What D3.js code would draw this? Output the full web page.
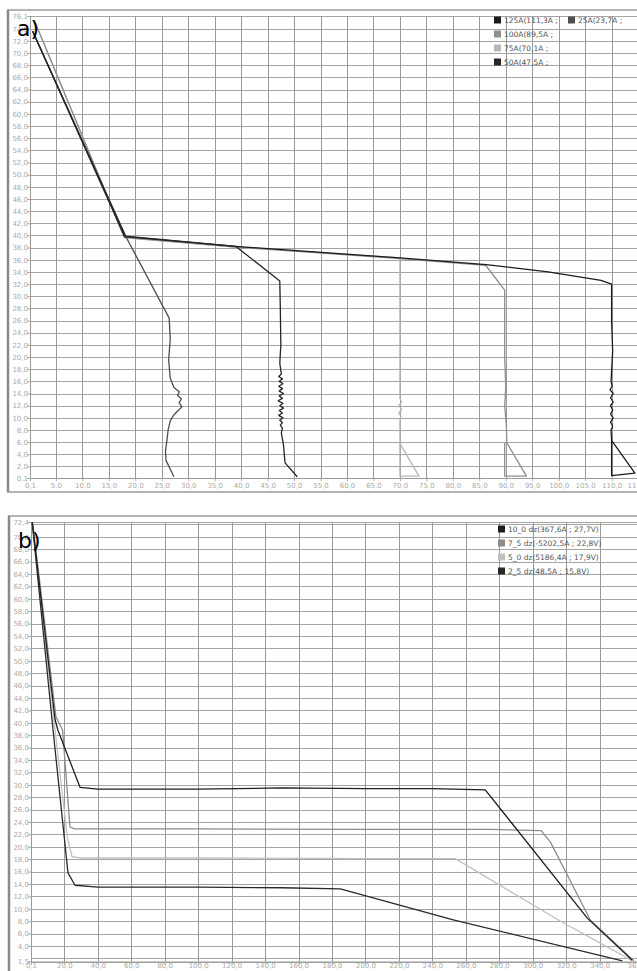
<!DOCTYPE html>
<html>
<head>
<meta charset="utf-8">
<script src="https://cdn.jsdelivr.net/npm/d3@7"></script>
<style>
  body { margin: 0; background: #fff; }
  svg { display: block; }
  text { font-family: "DejaVu Sans", sans-serif; }
</style>
</head>
<body>
<div id="chart"></div>
<script>
// ---- panel a data (x = current, y = voltage) ----
const namesA = ['125A', '25A', '100A', '75A', '50A'];
const legendA = ['125A(111,3A ;', '25A(23,7A ;', '100A(89,5A ;', '75A(70,1A ;', '50A(47,5A ;'];

const curve125 = [[0.6, 73.6], [18.0, 39.8], [39, 38.2], [70, 36.3], [86.3, 35.2], [98, 34.0], [108.0, 32.6],
  [110.0, 32.0], [110.0, 26], [110.2, 21], [109.9, 16], [110.1, 15.2], [109.7, 14.6], [110.3, 14.0],
  [109.8, 13.3], [110.3, 12.6], [109.8, 12.0], [110.2, 11.3], [109.8, 10.6], [110.3, 10.0], [109.8, 9.3],
  [110.2, 8.6], [109.9, 8.0], [110.0, 6.3], [114.4, 0.9], [110.0, 0.5], [110.0, 6.3]];
const curve25 = [[0.6, 73.6], [18.4, 39.5], [26.4, 26.4], [26.6, 23], [26.3, 19.5], [26.6, 16.5], [27.3, 15.0],
  [28.3, 14.3], [28.0, 13.7], [28.7, 13.1], [28.3, 12.5], [28.8, 11.8], [28.1, 11.2], [27.3, 10.5],
  [26.6, 9.5], [26.2, 8.0], [26.0, 6.5], [25.7, 4.5], [25.8, 3.0], [27.3, 0.3]];
const curve100 = [[0.9, 75.4], [17.9, 39.7], [39, 38.1], [70, 36.2], [86.2, 35.1], [89.8, 31.0], [89.8, 20],
  [90.0, 15], [89.8, 12], [90.1, 9], [90.2, 5.9], [93.9, 0.4], [89.8, 0.4], [89.8, 5.9]];
const curve75 = [[0.9, 75.4], [18.0, 39.6], [39, 38.1], [70.0, 36.3], [70.0, 20], [70.0, 13.2], [70.3, 12.6],
  [69.8, 12.0], [70.3, 11.4], [69.8, 10.8], [70.2, 10.2], [70.0, 9.6], [70.0, 5.8], [73.6, 0.4],
  [70.0, 0.4], [70.0, 5.8]];
const curve50 = [[0.6, 73.6], [18.1, 39.9], [39.0, 38.2], [47.3, 32.5], [47.4, 28], [47.5, 22], [47.3, 19],
  [47.6, 17.2], [47.1, 16.8], [47.8, 16.4], [47.2, 16.0], [47.9, 15.6], [47.1, 15.2], [47.8, 14.8],
  [47.2, 14.4], [48.0, 14.0], [47.2, 13.6], [47.8, 13.2], [47.0, 12.8], [47.9, 12.4], [47.3, 12.0],
  [48.0, 11.6], [47.2, 11.2], [47.8, 10.8], [47.1, 10.4], [47.9, 10.0], [47.3, 9.6], [47.8, 9.2],
  [47.4, 8.8], [47.8, 8.3], [47.6, 7.5], [48.0, 5.5], [48.2, 3.5], [48.3, 2.6], [50.6, 0.3]];

const xTicksA = [0.1, 5, 10, 15, 20, 25, 30, 35, 40, 45, 50, 55, 60, 65, 70, 75, 80, 85, 90, 95, 100, 105, 110, 114.8];
const yTicksA = [0.1, 2, 4, 6, 8, 10, 12, 14, 16, 18, 20, 22, 24, 26, 28, 30, 32, 34, 36, 38, 40, 42, 44, 46,
  48, 50, 52, 54, 56, 58, 60, 62, 64, 66, 68, 70, 72, 74, 76.1];

// ---- panel b data ----
const namesB = ['10_0', '7_5', '5_0', '2_5'];
const legendB = ['10_0 dz(367,6A ; 27,7V)', '7_5 dz(-5202,5A ; 22,8V)', '5_0 dz(5186,4A ; 17,9V)', '2_5 dz(48,5A ; 15,8V)'];

const curve10_0 = [[0.8, 72.4], [14.5, 40.5], [16.2, 38.8], [29.4, 29.6], [40, 29.3], [100, 29.3], [150, 29.5],
  [200, 29.4], [240, 29.4], [271.6, 29.2], [332.6, 8.5], [359.5, 1.7]];
const curve7_5 = [[1.0, 72.4], [15.0, 41], [19, 38.8], [23.4, 23.2], [26, 22.9], [100, 22.9], [200, 22.8],
  [274.6, 22.8], [305, 22.6], [310.5, 20.8], [334.4, 8.2], [360.5, 1.6]];
const curve5_0 = [[1.0, 72.4], [14.0, 40], [21.8, 21.5], [24.6, 18.4], [30, 18.2], [100, 18.2], [200, 18.1],
  [253.7, 18.1], [315.3, 8.2], [359.5, 1.6]];
const curve2_5 = [[0.8, 72.4], [13.3, 38.8], [22.2, 15.8], [26.4, 13.8], [40, 13.5], [100, 13.5], [150, 13.4],
  [185, 13.2], [252.5, 8.2], [353.6, 1.6]];

const xTicksB = [0.1, 20, 40, 60, 80, 100, 120, 140, 160, 180, 200, 220, 240, 260, 280, 300, 320, 340, 362.3];
const yTicksB = [1.5, 2, 4, 6, 8, 10, 12, 14, 16, 18, 20, 22, 24, 26, 28, 30, 32, 34, 36, 38, 40, 42, 44, 46,
  48, 50, 52, 54, 56, 58, 60, 62, 64, 66, 68, 70, 72, 72.4];

const fmt = v => d3.format('.1f')(v).replace('.', ',');

const svg = d3.select('#chart').append('svg')
  .attr('width', 637).attr('height', 971);
svg.append('rect').attr('width', 637).attr('height', 971).attr('fill', '#fff');

function drawPanel(p) {
  const g = svg.append('g');
  const x = d3.scaleLinear().domain([p.xTicks[0], p.xTicks[p.xTicks.length - 1]]).range([p.left, p.right]);
  const y = d3.scaleLinear().domain([p.yTicks[0], p.yTicks[p.yTicks.length - 1]]).range([p.bottom, p.top]);

  // outer frame
  g.append('rect')
    .attr('x', p.fx).attr('y', p.fy).attr('width', 700).attr('height', p.fh)
    .attr('fill', '#fff').attr('stroke', '#b4b4b4').attr('stroke-width', 2);
  g.append('line')
    .attr('x1', p.fx).attr('x2', p.fx).attr('y1', p.fy).attr('y2', p.fy + p.fh)
    .attr('stroke', '#8a8a8a').attr('stroke-width', 2.5);

  // grid
  g.selectAll('.hg').data(p.yTicks).join('line')
    .attr('x1', p.left).attr('x2', p.right)
    .attr('y1', d => Math.round(y(d)) + 0.5).attr('y2', d => Math.round(y(d)) + 0.5)
    .attr('stroke', '#a4a4a4').attr('stroke-width', 1);
  g.selectAll('.vg').data(p.xTicks).join('line')
    .attr('y1', p.top).attr('y2', p.bottom)
    .attr('x1', d => Math.round(x(d)) + 0.5).attr('x2', d => Math.round(x(d)) + 0.5)
    .attr('stroke', '#999').attr('stroke-width', 1);

  // axes
  const yLab = p.yTicks.filter((d, i) => i === 0 || i === p.yTicks.length - 1 ||
    (Math.abs(d - p.yTicks[0]) > 1 && Math.abs(d - p.yTicks[p.yTicks.length - 1]) > 1));
  const ya = g.append('g').attr('transform', `translate(${p.left},0)`)
    .call(d3.axisLeft(y).tickValues(yLab).tickSize(3).tickFormat(fmt));
  const xa = g.append('g').attr('transform', `translate(0,${p.bottom})`)
    .call(d3.axisBottom(x).tickValues(p.xTicks).tickSize(3).tickFormat(fmt));
  [ya, xa].forEach(a => {
    a.select('.domain').attr('stroke', '#999');
    a.selectAll('.tick line').attr('stroke', '#aaa');
    a.selectAll('.tick text').attr('fill', '#aaa').attr('font-size', 7)
      .attr('font-family', '"DejaVu Sans", sans-serif');
  });
  ya.selectAll('.tick text').attr('x', -2);
  xa.selectAll('.tick text').attr('y', p.xLabelY);

  // curves
  const clipId = 'clip-' + p.id;
  svg.append('clipPath').attr('id', clipId).append('rect')
    .attr('x', p.left).attr('y', p.top).attr('width', p.right - p.left).attr('height', p.bottom - p.top);
  const line = d3.line().x(d => x(d[0])).y(d => y(d[1]));
  g.append('g').attr('clip-path', `url(#${clipId})`)
    .selectAll('path').data(p.order).join('path')
    .attr('d', k => line(p.curves[k]))
    .attr('fill', 'none')
    .attr('stroke', k => p.colors[k])
    .attr('stroke-width', 1.3)
    .attr('stroke-linejoin', 'round');

  // legend
  const lg = g.append('g');
  p.legend.forEach((item, i) => {
    const cid = `leg-${p.id}-${i}`;
    svg.append('clipPath').attr('id', cid).append('rect')
      .attr('x', item.lx).attr('y', item.ly - 8).attr('width', item.w).attr('height', 16);
    const it = lg.append('g').attr('clip-path', `url(#${cid})`);
    it.append('rect').attr('x', item.lx).attr('y', item.ly - 3.5).attr('width', 7).attr('height', 7)
      .attr('fill', p.colors[item.key]);
    it.append('text').attr('x', item.lx + 10).attr('y', item.ly + 2.8)
      .attr('font-size', 7.5).attr('fill', '#555').text(item.text);
  });

  // panel letter
  svg.append('text').attr('x', p.fx + 9).attr('y', p.labelY)
    .attr('font-family', '"Liberation Sans", Arial, sans-serif').attr('font-size', 22)
    .attr('fill', '#000').text(p.label);
}

drawPanel({
  id: 'a', label: 'a)', labelY: 36, xLabelY: 5,
  fx: 8, fy: 10, fh: 482,
  left: 30, right: 637, top: 16, bottom: 478,
  xTicks: xTicksA, yTicks: yTicksA,
  curves: { '125A': curve125, '25A': curve25, '100A': curve100, '75A': curve75, '50A': curve50 },
  order: ['75A', '100A', '125A', '25A', '50A'],
  colors: { '125A': '#1c1c1c', '25A': '#4e4e4e', '100A': '#8e8e8e', '75A': '#b8b8b8', '50A': '#262626' },
  legend: [
    { key: namesA[0], text: legendA[0], lx: 494, ly: 20, w: 68 },
    { key: namesA[1], text: legendA[1], lx: 568, ly: 20, w: 69 },
    { key: namesA[2], text: legendA[2], lx: 494, ly: 34, w: 68 },
    { key: namesA[3], text: legendA[3], lx: 494, ly: 48, w: 68 },
    { key: namesA[4], text: legendA[4], lx: 494, ly: 62, w: 68 }
  ]
});

drawPanel({
  id: 'b', label: 'b)', labelY: 548, xLabelY: 2,
  fx: 9, fy: 516, fh: 470,
  left: 31, right: 637, top: 522, bottom: 961.5,
  xTicks: xTicksB, yTicks: yTicksB,
  curves: { '10_0': curve10_0, '7_5': curve7_5, '5_0': curve5_0, '2_5': curve2_5 },
  order: ['5_0', '7_5', '10_0', '2_5'],
  colors: { '10_0': '#1e1e1e', '7_5': '#8c8c8c', '5_0': '#c0c0c0', '2_5': '#2a2a2a' },
  legend: namesB.map((k, i) => ({ key: k, text: legendB[i], lx: 498, ly: 529 + i * 14, w: 139 }))
});
</script>
</body>
</html>
